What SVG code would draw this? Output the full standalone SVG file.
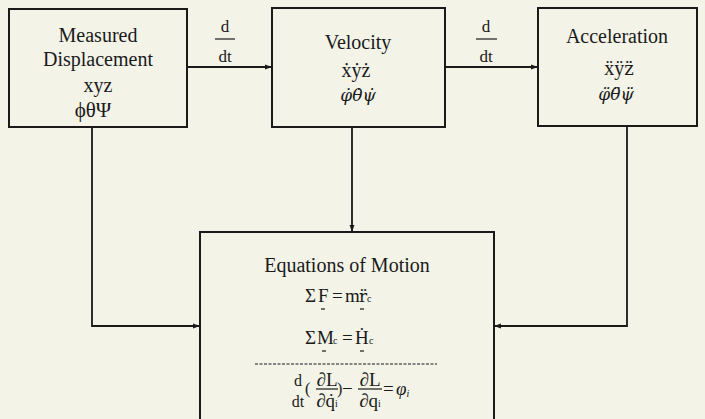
<svg xmlns="http://www.w3.org/2000/svg" width="705" height="419" viewBox="0 0 705 419">
<style>
.bg{fill:#f3f3e8}
.box{fill:none;stroke:#1a1a1a;stroke-width:2}
.ln{fill:none;stroke:#1a1a1a;stroke-width:1.8}
.t{font-family:"Liberation Serif","Times New Roman",serif;font-size:20px;fill:#1a1a1a;text-anchor:middle}
.g{font-family:"DejaVu Serif",serif;font-size:17px;font-style:italic;fill:#1a1a1a;text-anchor:middle}
.dv{font-family:"DejaVu Serif",serif}
.eq{font-family:"Liberation Serif","Times New Roman",serif;font-size:19px;fill:#1a1a1a}
.it{font-style:italic}
.sub{font-size:10px}
.mk{stroke:#1a1a1a;stroke-width:1.2}
</style>
<defs>
<marker id="ah" viewBox="0 0 10 10" refX="10" refY="5" markerWidth="7" markerHeight="7" markerUnits="userSpaceOnUse" orient="auto">
<path d="M0,1.5 L10,5 L0,8.5 Z" fill="#1a1a1a"/>
</marker>
</defs>
<rect class="bg" x="0" y="0" width="705" height="419"/>

<g id="connectors">
<line class="ln" x1="187" y1="67" x2="272" y2="67" marker-end="url(#ah)"/>
<line class="ln" x1="445" y1="67" x2="538" y2="67" marker-end="url(#ah)"/>
<line class="ln" x1="352" y1="127" x2="352" y2="232" marker-end="url(#ah)"/>
<polyline class="ln" points="92,127 92,326 200,326" marker-end="url(#ah)"/>
<polyline class="ln" points="627,126 627,326 494,326" marker-end="url(#ah)"/>
<g id="ddt1">
<text class="t" x="225" y="32" style="font-size:17px">d</text>
<line class="mk" x1="215" y1="39" x2="235" y2="39"/>
<text class="t" x="225" y="62" style="font-size:17px">dt</text>
</g>
<g id="ddt2">
<text class="t" x="486" y="32" style="font-size:17px">d</text>
<line class="mk" x1="476" y1="39" x2="497" y2="39"/>
<text class="t" x="486" y="62" style="font-size:17px">dt</text>
</g>
</g>

<g id="displacement">
<rect class="box" x="9" y="9" width="178" height="118"/>
<text class="t" x="98" y="42">Measured</text>
<text class="t" x="98" y="66">Displacement</text>
<text class="t" x="98" y="92">xyz</text>
<text class="t" x="93" y="117" style="font-size:21px">ϕθΨ</text>
</g>

<g id="velocity">
<rect class="box" x="272" y="8" width="173" height="119"/>
<text class="t" x="358" y="49">Velocity</text>
<text class="t" x="356" y="77">ẋẏż</text>
<text class="g" x="358" y="101">φ̇θ̇ψ̇</text>
</g>

<g id="acceleration">
<rect class="box" x="538" y="8" width="159" height="118"/>
<text class="t" x="617" y="43">Acceleration</text>
<text class="t" x="619" y="75">ẍÿ<tspan class="dv" style="font-size:18px">z̈</tspan></text>
<text class="g" x="616" y="100">φ̈θ̈ψ̈</text>
</g>

<g id="equations">
<polyline class="box" points="200,425 200,232 494,232 494,425"/>
<text class="t" x="347" y="272">Equations of Motion</text>
<g id="eq1">
<text class="eq" y="302"><tspan x="305">Σ</tspan><tspan x="318">F</tspan><tspan x="332">=</tspan><tspan x="345">m</tspan><tspan x="359" class="dv" style="font-size:17px">r̈</tspan><tspan class="sub" x="367">c</tspan></text>
<line class="mk" x1="321" y1="309" x2="325" y2="309"/>
<line class="mk" x1="360" y1="309" x2="364" y2="309"/>
</g>
<g id="eq2">
<text class="eq" y="344"><tspan x="305">Σ</tspan><tspan x="317">M</tspan><tspan class="sub" x="333">c</tspan><tspan x="342">=</tspan><tspan x="355">Ḣ</tspan><tspan class="sub" x="369">c</tspan></text>
<line class="mk" x1="322" y1="351" x2="326" y2="351"/>
<line class="mk" x1="360" y1="351" x2="364" y2="351"/>
</g>
<line class="mk" x1="255" y1="364" x2="437" y2="364" stroke-dasharray="3,1.5"/>
<g id="eq3">
<text class="eq" x="298" y="386" text-anchor="middle" style="font-size:16px">d</text>
<text class="eq" x="298" y="407" text-anchor="middle" style="font-size:16px">dt</text>
<text class="eq" x="305" y="394" style="font-size:16px">(</text>
<text class="eq" x="327" y="386" text-anchor="middle">∂L</text>
<line class="mk" x1="316" y1="389" x2="338" y2="389"/>
<text class="eq" x="327" y="407" text-anchor="middle">∂q̇<tspan class="sub">i</tspan></text>
<text class="eq" x="337" y="394" style="font-size:16px">)</text>
<text class="eq" x="342" y="395">−</text>
<text class="eq" x="370" y="386" text-anchor="middle">∂L</text>
<line class="mk" x1="358" y1="389" x2="382" y2="389"/>
<text class="eq" x="370" y="407" text-anchor="middle">∂q<tspan class="sub">i</tspan></text>
<text class="eq" x="383" y="395">=</text>
<text class="eq it" x="396" y="395">φ<tspan class="sub" dy="2">i</tspan></text>
</g>
</g>
</svg>
